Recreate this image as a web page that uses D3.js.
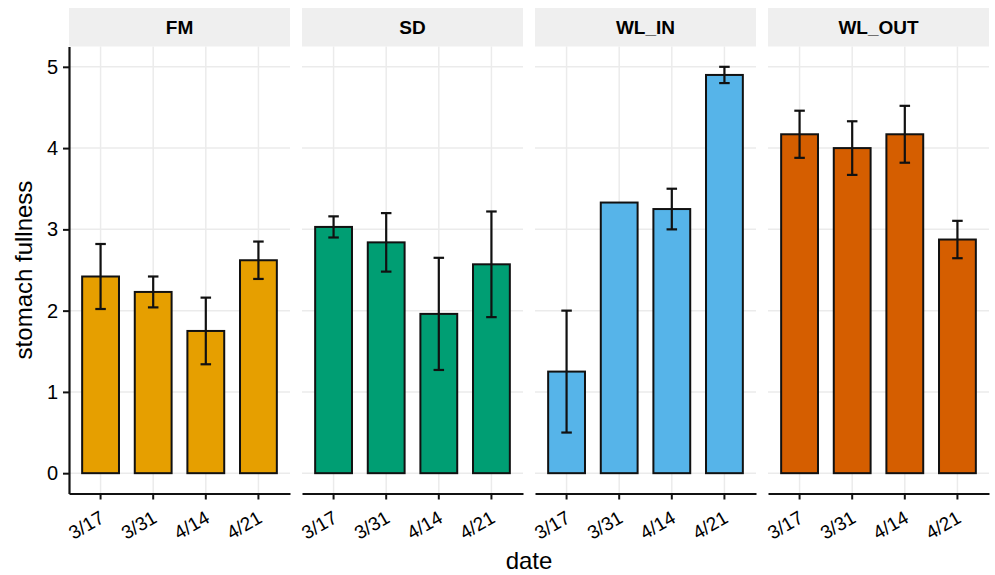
<!DOCTYPE html>
<html>
<head>
<meta charset="utf-8">
<script src="https://cdn.jsdelivr.net/npm/d3@7"></script>
<style>
  body { margin: 0; background: #fff; }
  text { font-family: "Liberation Sans", Arial, sans-serif; }
</style>
</head>
<body>
<div id="chart"></div>
<script>
var facets = ["FM", "SD", "WL_IN", "WL_OUT"];
var dates = ["3/17", "3/31", "4/14", "4/21"];
var colors = ["#E69F00", "#009E73", "#56B4E9", "#D55E00"];

// mean stomach fullness per facet and date
var meanFM = [2.42, 2.23, 1.75, 2.62];
var meanSD = [3.03, 2.84, 1.96, 2.57];
var meanWLIN = [1.25, 3.33, 3.25, 4.90];
var meanWLOUT = [4.17, 4.00, 4.17, 2.875];

// standard error (null = no error bar)
var seFM = [0.40, 0.19, 0.41, 0.23];
var seSD = [0.13, 0.36, 0.69, 0.65];
var seWLIN = [0.75, null, 0.25, 0.10];
var seWLOUT = [0.29, 0.33, 0.35, 0.23];

var yTicks = [0, 1, 2, 3, 4, 5];

var means = [meanFM, meanSD, meanWLIN, meanWLOUT];
var ses = [seFM, seSD, seWLIN, seWLOUT];

var data = facets.map((f, i) => dates.map((d, j) => ({
    facet: f, date: d, mean: means[i][j], se: ses[i][j], color: colors[i]
}))).flat(1);

var W = 995, H = 575;
var margin = { top: 46.5, right: 6, bottom: 81.5, left: 69 };
var stripH = 38.5;

var svg = d3.select("#chart")
    .append("svg")
    .attr("width", W)
    .attr("height", H);

var panel = d3.scaleBand()
    .domain(facets)
    .range([margin.left, W - margin.right])
    .paddingInner(12 / 233);

var x = d3.scaleBand()
    .domain(dates)
    .range([0, panel.bandwidth()])
    .paddingInner(0.3)
    .paddingOuter(0.25);

var y = d3.scaleLinear()
    .domain([-0.25, 5.25])
    .range([H - margin.bottom, margin.top]);

var gridColor = "#EBEBEB";
var textColor = "#000";

facets.forEach((f, i) => {
    var g = svg.append("g")
        .attr("transform", "translate(" + panel(f) + ",0)");
    var pw = panel.bandwidth();

    // strip
    g.append("rect")
        .attr("x", 0).attr("y", margin.top - stripH)
        .attr("width", pw).attr("height", stripH)
        .attr("fill", "#EFEFEF");
    g.append("text")
        .attr("x", pw / 2).attr("y", margin.top - stripH / 2)
        .attr("dy", "0.36em")
        .attr("text-anchor", "middle")
        .attr("font-size", 19)
        .attr("font-weight", "bold")
        .attr("fill", textColor)
        .text(f);

    // grid
    g.selectAll(".hgrid")
        .data(yTicks)
        .enter().append("line")
        .attr("x1", 0).attr("x2", pw)
        .attr("y1", d => y(d)).attr("y2", d => y(d))
        .attr("stroke", gridColor).attr("stroke-width", 1.5);
    g.selectAll(".vgrid")
        .data(dates)
        .enter().append("line")
        .attr("x1", d => x(d) + x.bandwidth() / 2)
        .attr("x2", d => x(d) + x.bandwidth() / 2)
        .attr("y1", margin.top).attr("y2", H - margin.bottom)
        .attr("stroke", gridColor).attr("stroke-width", 1.5);

    var rows = data.filter(d => d.facet === f);

    // bars
    g.selectAll(".bar")
        .data(rows)
        .enter().append("rect")
        .attr("x", d => x(d.date))
        .attr("y", d => y(d.mean))
        .attr("width", x.bandwidth())
        .attr("height", d => y(0) - y(d.mean))
        .attr("fill", d => d.color)
        .attr("stroke", "#111")
        .attr("stroke-width", 2);

    // error bars
    var capW = x.step() * 0.2;
    var eb = g.selectAll(".err")
        .data(rows.filter(d => d.se !== null))
        .enter().append("g")
        .attr("stroke", "#111")
        .attr("stroke-width", 2.2);
    eb.append("line")
        .attr("x1", d => x(d.date) + x.bandwidth() / 2)
        .attr("x2", d => x(d.date) + x.bandwidth() / 2)
        .attr("y1", d => y(d.mean - d.se))
        .attr("y2", d => y(d.mean + d.se));
    [1, -1].forEach(s => {
        eb.append("line")
            .attr("x1", d => x(d.date) + x.bandwidth() / 2 - capW / 2)
            .attr("x2", d => x(d.date) + x.bandwidth() / 2 + capW / 2)
            .attr("y1", d => y(d.mean + s * d.se))
            .attr("y2", d => y(d.mean + s * d.se));
    });

    // x axis
    var xa = g.append("g")
        .attr("transform", "translate(0," + (H - margin.bottom) + ")")
        .call(d3.axisBottom(x).tickSize(6).tickSizeOuter(0));
    xa.select(".domain").attr("stroke", "#111").attr("stroke-width", 2.2);
    xa.selectAll(".tick line").attr("stroke", "#111").attr("stroke-width", 2);
    xa.selectAll(".tick text")
        .attr("x", 0).attr("y", 0).attr("dy", 0)
        .attr("text-anchor", "end")
        .attr("transform", "translate(5,28) rotate(-30)")
        .attr("font-size", 19)
        .attr("font-family", "Liberation Sans, Arial, sans-serif")
        .attr("fill", textColor);

    // y axis on first panel only
    if (i === 0) {
        var ya = g.append("g")
            .call(d3.axisLeft(y).tickValues(yTicks).tickFormat(d3.format("d"))
                .tickSize(6).tickPadding(5).tickSizeOuter(0));
        ya.select(".domain").attr("stroke", "#111").attr("stroke-width", 2.2);
        ya.selectAll(".tick line").attr("stroke", "#111").attr("stroke-width", 2);
        ya.selectAll(".tick text")
            .attr("font-size", 20)
            .attr("font-family", "Liberation Sans, Arial, sans-serif")
            .attr("fill", textColor);
    }
});

// axis titles
svg.append("text")
    .attr("transform", "translate(32," + ((margin.top + H - margin.bottom) / 2) + ") rotate(-90)")
    .attr("text-anchor", "middle")
    .attr("font-size", 24)
    .attr("fill", textColor)
    .text("stomach fullness");

svg.append("text")
    .attr("x", (margin.left + W - margin.right) / 2)
    .attr("y", 569)
    .attr("text-anchor", "middle")
    .attr("font-size", 24)
    .attr("fill", textColor)
    .text("date");
</script>
</body>
</html>
